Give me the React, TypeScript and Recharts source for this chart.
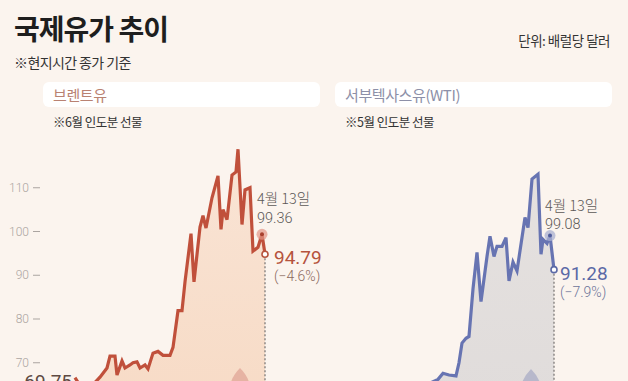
import React from "react";
import { ComposedChart, Area, XAxis, YAxis, ReferenceDot, ReferenceLine } from "recharts";

// 거래일 인덱스 (0~80), 값은 그림에서 읽은 종가
const brentDays = [4, 6, 8, 10, 12, 14, 16.8, 18, 20, 20.8, 22.8, 24, 26, 27.2, 28.8, 30, 32, 33.2, 35.2, 37.2, 39.2, 42, 43.2, 45.2, 46.8, 48, 50.4, 51.6, 54, 55.2, 56.4, 58.8, 61.2, 62.4, 63.2, 64.8, 66.8, 68.4, 69.2, 70.8, 72, 74, 75.2, 77.2, 78.8, 80];
const brentPrices = [66.6, 64.8, 65.2, 64.6, 65.5, 66.7, 68.8, 71.5, 71.5, 67.2, 70.4, 68.8, 69.5, 70, 70.2, 68.8, 69.5, 68.6, 72.2, 72.6, 71.7, 71.7, 73.5, 81.9, 81.9, 88.5, 99.5, 88.5, 101, 103.6, 100.8, 107.7, 112.7, 100.5, 105, 102.7, 112.9, 113.6, 118.8, 101.6, 109.5, 110, 95.5, 96.4, 99.36, 94.79];

const wtiDays = [4, 10, 16, 22, 28, 31, 33.6, 35.6, 38, 40.8, 42, 43.2, 44.8, 46, 47.6, 49.2, 50.8, 53.2, 54.4, 56, 57.2, 59.2, 60.8, 62, 63.6, 65.2, 68.4, 69.6, 71.2, 73.6, 74.8, 75.6, 77.2, 78.4, 80];
const wtiPrices = [63, 62, 63.5, 62.8, 64.5, 65.5, 66.2, 67.6, 67.2, 67, 70, 74.5, 75.6, 76, 86.9, 95.2, 84, 94.3, 98.9, 94.3, 96.6, 96.6, 98.6, 88.7, 93, 91, 103.2, 100.9, 112, 113.1, 94.8, 98.2, 97.3, 99.08, 91.28];

const yTicks = [70, 80, 90, 100, 110];
const yDomain = [60, 120];
const xDomain = [0, 80];

const brentData = brentDays.map((d, i) => ({ day: d, price: brentPrices[i] }));
const wtiData = wtiDays.map((d, i) => ({ day: d, price: wtiPrices[i] }));

const BG = "#FBF4EE";
const KR = "'Noto Sans CJK KR', sans-serif";
const NUM = "Roboto, 'Noto Sans CJK KR', sans-serif";

const PriceTick = (props: any) => {
  const { x, y, payload } = props;
  return (
    <g>
      <text x={x - 36} y={y} dy={4} textAnchor="end" fill="#ABA5A1" fontSize={12} fontFamily={NUM} fontWeight={300}>
        {payload.value}
      </text>
      <line x1={x - 32} x2={x - 25} y1={y} y2={y} stroke="#ABA5A1" strokeWidth={1} />
    </g>
  );
};

const pin = (color: string) => (props: any) => {
  const { cx, cy } = props;
  return (
    <path
      d={`M${cx},${cy} Q${cx + 10},${cy + 10} ${cx + 10},${cy + 21} A10,10 0 0 1 ${cx - 10},${cy + 21} Q${cx - 10},${cy + 10} ${cx},${cy} Z`}
      fill={color}
    />
  );
};

const markPoint = (halo: string, core: string, dy1: number, dy2: number, value: string) => (props: any) => {
  const { cx, cy } = props;
  return (
    <g>
      <circle cx={cx} cy={cy} r={5.5} fill={halo} />
      <circle cx={cx} cy={cy} r={2} fill={core} />
      <text x={cx - 5} y={cy + dy1} fill="#5B5856" fontSize={14.5} fontFamily={KR} fontWeight={300}>4월 13일</text>
      <text x={cx - 5} y={cy + dy2} fill="#5B5856" fontSize={14.5} fontFamily={NUM} fontWeight={300}>{value}</text>
    </g>
  );
};

const endPoint = (color: string, sub: string, value: string, change: string, dx: number) => (props: any) => {
  const { cx, cy } = props;
  return (
    <g>
      <circle cx={cx} cy={cy} r={3} fill="#fff" stroke={color} strokeWidth={1.6} />
      <text x={cx + dx} y={cy + 10} fill={color} fontSize={19} fontFamily={NUM}>{value}</text>
      <text x={cx + dx} y={cy + 27} fill={sub} fontSize={14} fontFamily={NUM} fontWeight={300}>{change}</text>
    </g>
  );
};

const startLabel = (props: any) => {
  const { cx, cy } = props;
  return (
    <text x={cx - 3} y={cy + 10} textAnchor="end" fill="#5E4A43" fontSize={19} fontFamily={NUM}>69.75</text>
  );
};

interface PanelProps {
  data: { day: number; price: number }[];
  id: string;
  line: string;
  fillTop: string;
  fillBottom: string;
  showAxis: boolean;
  width: number;
  margin: { top: number; right: number; bottom: number; left: number };
  children?: React.ReactNode;
}

const Panel = ({ data, id, line, fillTop, fillBottom, showAxis, width, margin, children }: PanelProps) => (
  <ComposedChart width={width} height={290} data={data} margin={margin}>
    <defs>
      <linearGradient id={id} x1="0" y1="0" x2="0" y2="1">
        <stop offset="0%" stopColor={fillTop} />
        <stop offset="100%" stopColor={fillBottom} />
      </linearGradient>
    </defs>
    <XAxis type="number" dataKey="day" domain={xDomain} hide />
    {showAxis ? (
      <YAxis
        domain={yDomain}
        ticks={yTicks}
        width={65}
        axisLine={false}
        tickLine={false}
        tickSize={0}
        tickMargin={0}
        tick={<PriceTick />}
        interval={0}
      />
    ) : (
      <YAxis domain={yDomain} hide />
    )}
    <Area
      type="linear"
      dataKey="price"
      stroke={line}
      strokeWidth={3.2}
      fill={`url(#${id})`}
      fillOpacity={1}
      dot={false}
      activeDot={false}
      isAnimationActive={false}
    />
    {children}
  </ComposedChart>
);

export default function App() {
  const last = brentData.length - 1;
  const wLast = wtiData.length - 1;
  return (
    <div style={{ position: "fixed", left: 0, top: 0, width: 628, height: 381, overflow: "hidden", background: BG, fontFamily: KR }}>
      <div style={{ position: "absolute", left: 14, top: 14, fontSize: 28, fontWeight: 700, lineHeight: 1, color: "#1E1E1E", letterSpacing: -1 }}>
        국제유가 추이
      </div>
      <div style={{ position: "absolute", left: 14, top: 55, fontSize: 14, lineHeight: 1, color: "#333", letterSpacing: -0.6 }}>
        ※현지시간 종가 기준
      </div>
      <div style={{ position: "absolute", right: 18, top: 34, fontSize: 13.5, lineHeight: 1, color: "#333", letterSpacing: -0.5 }}>
        단위: 배럴당 달러
      </div>

      <div style={{ position: "absolute", left: 43, top: 82, width: 277, height: 25, background: "#fff", borderRadius: 6 }} />
      <div style={{ position: "absolute", left: 335, top: 82, width: 277, height: 25, background: "#fff", borderRadius: 6 }} />
      <div style={{ position: "absolute", left: 53, top: 87, fontSize: 15, lineHeight: 1, color: "#B98272", letterSpacing: -0.4 }}>브렌트유</div>
      <div style={{ position: "absolute", left: 345, top: 87, fontSize: 15, lineHeight: 1, color: "#8D90A8", letterSpacing: -0.4 }}>서부텍사스유(WTI)</div>
      <div style={{ position: "absolute", left: 53, top: 116, fontSize: 12.5, lineHeight: 1, color: "#333", letterSpacing: -0.5 }}>※6월 인도분 선물</div>
      <div style={{ position: "absolute", left: 345, top: 116, fontSize: 12.5, lineHeight: 1, color: "#333", letterSpacing: -0.5 }}>※5월 인도분 선물</div>

      <div style={{ position: "absolute", left: 0, top: 130 }}>
        <Panel
          data={brentData}
          id="brentFill"
          line="#C0503B"
          fillTop="#F9E4D5"
          fillBottom="#F7DBC6"
          showAxis
          width={330}
          margin={{ top: 14, right: 65, bottom: 13.5, left: 0 }}
        >
          <ReferenceLine
            segment={[{ x: brentDays[last], y: brentPrices[last] }, { x: brentDays[last], y: yDomain[0] }]}
            stroke="#7E7A78"
            strokeDasharray="2 2"
            strokeWidth={1.3}
            ifOverflow="visible"
          />
          <ReferenceDot x={70} y={68.8} shape={pin("#E6B3A3")} ifOverflow="visible" />
          <ReferenceDot x={brentDays[0]} y={brentPrices[0]} shape={startLabel} ifOverflow="visible" />
          <ReferenceDot
            x={brentDays[last - 1]}
            y={brentPrices[last - 1]}
            shape={markPoint("rgba(226,150,135,0.7)", "#A8402E", -30, -11, "99.36")}
            ifOverflow="visible"
          />
          <ReferenceDot
            x={brentDays[last]}
            y={brentPrices[last]}
            shape={endPoint("#B5533D", "#8C6A60", "94.79", "(−4.6%)", 9)}
            ifOverflow="visible"
          />
        </Panel>
      </div>

      <div style={{ position: "absolute", left: 290, top: 130 }}>
        <Panel
          data={wtiData}
          id="wtiFill"
          line="#6774B2"
          fillTop="#E5E1DF"
          fillBottom="#E0DCDB"
          showAxis={false}
          width={338}
          margin={{ top: 14, right: 74, bottom: 13.5, left: 64 }}
        >
          <ReferenceLine
            segment={[{ x: wtiDays[wLast], y: wtiPrices[wLast] }, { x: wtiDays[wLast], y: yDomain[0] }]}
            stroke="#7E7A78"
            strokeDasharray="2 2"
            strokeWidth={1.3}
            ifOverflow="visible"
          />
          <ReferenceDot x={70.8} y={68.6} shape={pin("#B7B8CB")} ifOverflow="visible" />
          <ReferenceDot
            x={wtiDays[wLast - 1]}
            y={wtiPrices[wLast - 1]}
            shape={markPoint("rgba(170,176,208,0.75)", "#4F5C9C", -25, -7, "99.08")}
            ifOverflow="visible"
          />
          <ReferenceDot
            x={wtiDays[wLast]}
            y={wtiPrices[wLast]}
            shape={endPoint("#5B69A6", "#6E7599", "91.28", "(−7.9%)", 6)}
            ifOverflow="visible"
          />
        </Panel>
      </div>
    </div>
  );
}
